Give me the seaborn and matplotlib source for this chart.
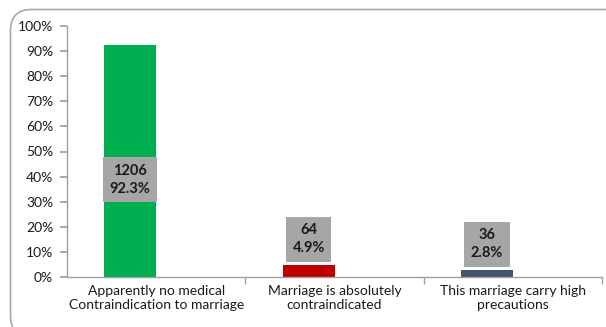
import matplotlib
matplotlib.use("Agg")
import matplotlib.pyplot as plt
import seaborn as sns
import pandas as pd
from matplotlib.patches import FancyBboxPatch
from matplotlib.ticker import PercentFormatter, FixedLocator

categories = ["Apparently no medical\nContraindication to marriage",
              "Marriage is absolutely\ncontraindicated",
              "This marriage carry high\nprecautions"]
percents = [92.3, 4.9, 2.8]
counts = [1206, 64, 36]
colors = ["#00b050", "#c00000", "#44546a"]
label_y = [38.8, 15.1, 13.1]

sns.set_theme(style="white")
plt.rcParams['font.family'] = ['Lato', 'DejaVu Sans']

fig = plt.figure(figsize=(6.06, 3.27), dpi=100)
ax = fig.add_axes([67/606, 1 - 277/327, (602 - 67)/606, 251/327])

# Excel-style clustered chart: a visible series plus an empty companion series
df = pd.DataFrame({
    "cat": categories * 2,
    "pct": percents + [0, 0, 0],
    "series": ["shown"] * 3 + ["empty"] * 3,
})
sns.barplot(data=df, x="cat", y="pct", hue="series", hue_order=["shown", "empty"],
            palette=["#00b050", "#ffffff"], width=0.58, dodge=True, gap=0,
            legend=False, ax=ax, saturation=1)

shown = [p for p in ax.patches if p.get_height() > 0]
shown.sort(key=lambda p: p.get_x())
for p, c in zip(shown, colors):
    p.set_facecolor(c)
    p.set_edgecolor("none")

ax.set_ylim(0, 100)
ax.set_xlim(-0.5, 2.5)
ax.set_yticks(range(0, 101, 10))
ax.yaxis.set_major_formatter(PercentFormatter(decimals=0))
ax.set_xlabel("")
ax.set_ylabel("")
ax.tick_params(axis="y", labelsize=10, length=5, color="#a0a0a0", left=True, pad=5)
ax.tick_params(axis="x", labelsize=10, length=0, pad=6)
ax.xaxis.set_minor_locator(FixedLocator([0.5, 1.5, 2.5]))
ax.tick_params(axis="x", which="minor", length=5, color="#a0a0a0", bottom=True)
for s in ["top", "right"]:
    ax.spines[s].set_visible(False)
for s in ["left", "bottom"]:
    ax.spines[s].set_color("#a0a0a0")
    ax.spines[s].set_linewidth(1)
for lbl in ax.get_yticklabels() + ax.get_xticklabels():
    lbl.set_color("#1a1a1a")

for p, c, v, ly in zip(shown, counts, percents, label_y):
    xc = p.get_x() + p.get_width() / 2
    ax.text(xc, ly, f"{c}\n{v}%", ha="center", va="center", fontsize=10.5,
            fontweight="bold", color="#1a1a1a", linespacing=1.35,
            bbox=dict(boxstyle="square,pad=0.45", fc="#a6a6a6", ec="none"))

border = FancyBboxPatch((10.5/606, -10/327), 620/606, (337-9.5)/327,
                        boxstyle="round,pad=0,rounding_size=0.035",
                        transform=fig.transFigure, fc="none", ec="#a8a8a8",
                        lw=1.2, zorder=-1, mutation_aspect=606/327)
fig.patches.append(border)

fig.savefig("out.png", dpi=100)
